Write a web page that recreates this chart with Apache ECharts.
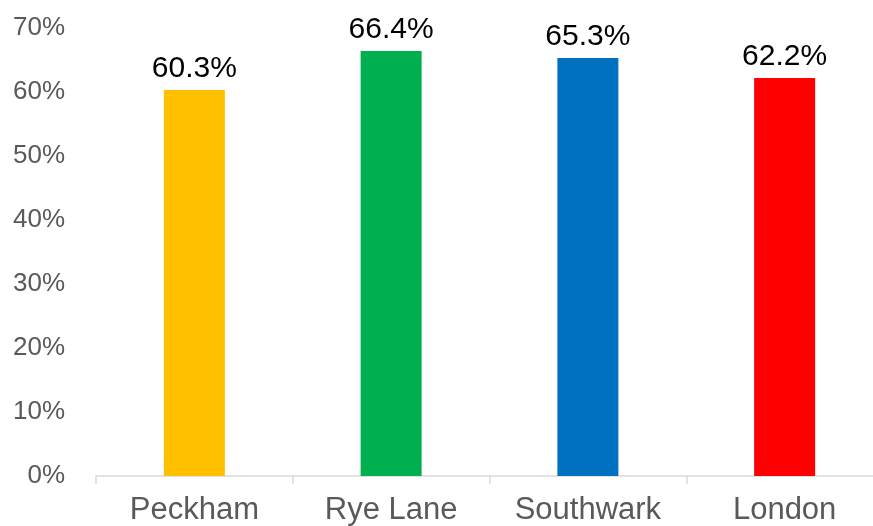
<!DOCTYPE html>
<html>
<head>
<meta charset="utf-8">
<script src="https://cdn.jsdelivr.net/npm/echarts@6/dist/echarts.min.js"></script>
<style>
  html, body { margin: 0; padding: 0; background: #fff; overflow: hidden; }
  #chart { width: 895px; height: 526px; }
</style>
</head>
<body>
<div id="chart"></div>
<script>
var categories = ['Peckham', 'Rye Lane', 'Southwark', 'London'];
var values = [60.3, 66.4, 65.3, 62.2];
var barColors = ['#FFC000', '#00B050', '#0070C0', '#FF0000'];

// the plot runs a little past the right edge of the 873px window, as in the original
var chart = echarts.init(document.getElementById('chart'));
chart.setOption({
  animation: false,
  grid: { left: 96, width: 787, top: 28, bottom: 50, containLabel: false },
  xAxis: {
    type: 'category',
    data: categories,
    axisLine: { lineStyle: { color: '#d9d9d9', width: 1.5 } },
    axisTick: { show: true, length: 8, lineStyle: { color: '#d9d9d9', width: 1.5 } },
    axisLabel: { color: '#595959', fontSize: 31, fontFamily: 'Liberation Sans, Arial', margin: 19 }
  },
  yAxis: {
    type: 'value',
    min: 0, max: 70, interval: 10,
    splitLine: { show: false },
    axisLine: { show: false },
    axisTick: { show: false },
    axisLabel: {
      color: '#595959', fontSize: 26, fontFamily: 'Liberation Sans, Arial', margin: 31,
      formatter: '{value}%'
    }
  },
  series: [{
    type: 'bar',
    barWidth: 61,
    data: values.map(function (v, i) {
      return { value: v, itemStyle: { color: barColors[i] } };
    }),
    label: {
      show: true, position: 'top', distance: 6,
      color: '#000', fontSize: 30, fontFamily: 'Liberation Sans, Arial',
      formatter: function (p) { return p.value.toFixed(1) + '%'; }
    }
  }]
});
</script>
</body>
</html>
